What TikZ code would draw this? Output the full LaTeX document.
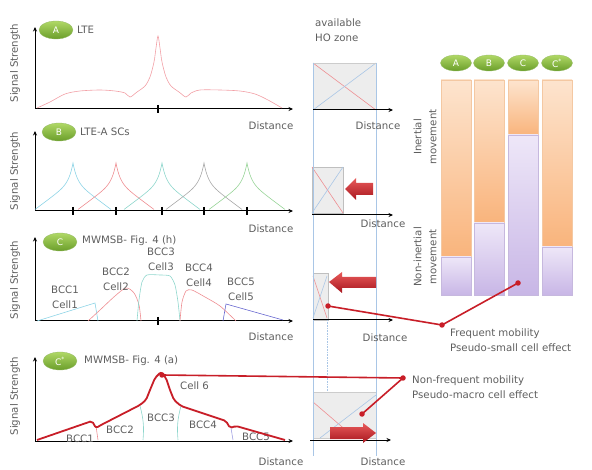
\documentclass[tikz,border=0pt]{standalone}
\usepackage{fontspec}
\setmainfont{DejaVu Sans}
\usetikzlibrary{shapes.geometric,arrows.meta}
\definecolor{tgray}{HTML}{5E5E5E}
\definecolor{lred}{HTML}{C81E28}
\definecolor{pinkc}{HTML}{F2A0A6}
\definecolor{gl}{HTML}{B0D866}
\definecolor{gd}{HTML}{6A9E2A}
\definecolor{hoblue}{HTML}{A9C6E6}
\definecolor{boxgray}{HTML}{EDEDED}
\definecolor{cyanc}{HTML}{8ED4E6}
\definecolor{redc}{HTML}{EE8E92}
\definecolor{tealc}{HTML}{8ED6CC}
\definecolor{grayc}{HTML}{A8A8A8}
\definecolor{greenc}{HTML}{98D498}
\definecolor{bluec}{HTML}{6868D0}
\definecolor{orT}{HTML}{FDE4CE}
\definecolor{orB}{HTML}{F9B47C}
\definecolor{orD}{HTML}{F4C8A2}
\definecolor{lvT}{HTML}{EEE7F8}
\definecolor{lvB}{HTML}{C8B6E6}
\definecolor{lvD}{HTML}{C6B8DE}
\definecolor{arT}{HTML}{E85A5A}
\definecolor{arB}{HTML}{A8161E}
\begin{document}
\begin{tikzpicture}[x=1pt,y=-1pt,
  txt/.style={text=tgray,font=\fontsize{10.2}{15}\selectfont,inner sep=0pt},
  ylab/.style={txt,rotate=90},
  axisline/.style={line width=1pt,-{Stealth[length=4.5pt,width=4pt]}},
  tick/.style={line width=1.1pt},
  badge/.style={ellipse,top color=gl,bottom color=gd,draw=gd!70,line width=0.3pt,
     minimum width=34pt,minimum height=18pt,inner sep=0pt,text=white,
     font=\fontsize{9}{10}\selectfont},
  sbadge/.style={badge,minimum width=31pt,minimum height=16pt},
  pointer/.style={draw=lred,line width=1.6pt},
  reddot/.style={circle,fill=lred,inner sep=0pt,minimum size=5.5pt},
  hobox/.style={fill=boxgray,draw=black!20,line width=0.5pt},
  holine/.style={draw=hoblue,line width=0.7pt},
  thin/.style={line width=0.6pt}]
\useasboundingbox (0,0) rectangle (592,470);

% ---------------- Panel A ----------------
\draw[axisline] (35,109) -- (35,27);
\draw[axisline] (35,109) -- (293,109);
\draw[tick] (158,105) -- (158,113);
\node[ylab] (ylA) at (15,63) {Signal Strength};
\node[badge] (bA) at (56,30) {A};
\node[txt,anchor=west] (tA) at (77,30) {LTE};
\node[txt] (dA) at (271,126) {Distance};
\draw[pinkc,thin] plot[smooth,tension=0.5] coordinates {(37,108) (50,102) (65,94) (80,91) (100,90) (115,91) (125,93) (130,97) (137,92) (145,86) (150,77) (154,62) (156,48) (158,36) (160,48) (162,62) (166,77) (171,86) (179,92) (186,97) (191,93) (200,90) (220,90) (240,91) (255,94) (268,100) (282,108)};

% ---------------- Panel B ----------------
\draw[axisline] (35,211) -- (35,131);
\draw[axisline] (35,211) -- (293,211);
\foreach \t in {73,116,162,204,247} \draw[tick] (\t,207) -- (\t,215);
\node[ylab] (ylB) at (15,171) {Signal Strength};
\node[badge] (bB) at (59,132) {B};
\node[txt,anchor=west] (tB) at (80,132) {LTE-A SCs};
\node[txt] (dB) at (271,229) {Distance};
\foreach \c/\col in {73/cyanc,116/redc,162/tealc,204/grayc,247/greenc}
  \draw[\col,thin] plot[domain=-38:38,samples=77] ({\c+\x},{211-30*(1-abs(\x)/40)-18*exp(-abs(\x)/4)});

% ---------------- Panel C ----------------
\draw[axisline] (35,321) -- (35,237);
\draw[axisline] (35,321) -- (293,321);
\draw[tick] (158,317) -- (158,325);
\node[ylab] (ylC) at (15,280) {Signal Strength};
\node[badge] (bC) at (60,242) {C};
\node[txt,anchor=west] (tC) at (82,241) {MWMSB- Fig. 4 (h)};
\node[txt] (dC) at (271,337) {Distance};
\draw[cyanc,thin] (37,321) -- (95,303) -- (98,321);
\draw[redc,thin] plot[smooth,tension=0.5] coordinates {(88,321) (100,310) (115,296) (126,288) (134,293) (139,305) (141,321)};
\draw[tealc,thin] plot[smooth,tension=0.4] coordinates {(137,321) (139,300) (142,282) (147,275) (160,275) (170,276) (175,285) (178,302) (180,321)};
\draw[redc,thin] plot[smooth,tension=0.4] coordinates {(180,321) (182,302) (186,291) (192,290) (205,297) (220,306) (236,321)};
\draw[bluec,thin] (223,321) -- (226,304) -- (283,320);
\node[txt,align=center] (l1) at (65,297) {BCC1\\Cell1};
\node[txt,align=center] (l2) at (116,279) {BCC2\\Cell2};
\node[txt,align=center] (l3) at (161,259) {BCC3\\Cell3};
\node[txt,align=center] (l4) at (199,275) {BCC4\\Cell4};
\node[txt,align=center] (l5) at (241,289) {BCC5\\Cell5};

% ---------------- Panel C* ----------------
\draw[axisline] (35,441) -- (35,357);
\draw[axisline] (35,441) -- (293,441);
\node[ylab] (ylD) at (15,396) {Signal Strength};
\node[badge] (bD) at (60,361) {C\textsuperscript{*}};
\node[txt,anchor=west] (tD) at (84,361) {MWMSB- Fig. 4 (a)};
\node[txt] (dD) at (281,462) {Distance};
\draw[redc,thin] (96,426) -- (98,440);
\draw[tealc,thin] (140,406) to[bend left=10] (143,440);
\draw[tealc,thin] (181,406) to[bend right=10] (178,440);
\draw[bluec!60,thin] (231,428) -- (233,440);
\node[txt] (m1) at (80,439) {BCC1};
\node[txt] (m2) at (120,430) {BCC2};
\node[txt] (m3) at (161,418) {BCC3};
\node[txt] (m4) at (203,425) {BCC4};
\node[txt] (m5) at (256,437) {BCC5};
\node[txt,anchor=west] (c6) at (180,386) {Cell 6};
\draw[lred,line width=1.8pt,rounded corners=2pt] (37,440) -- (92,421) -- (96,428) -- (101,425) -- (140,405) -- (146,400) -- (150,390) -- (155,378) -- (161,372) -- (166,378) -- (170,390) -- (174,400) -- (181,406) -- (205,414) -- (226,421) -- (230,428) -- (236,426) -- (285,440);

% ---------------- HO zone column ----------------
\node[txt,anchor=west,align=left] (ho) at (315,30) {available\\HO zone};
% box A
\fill[boxgray] (313,63) rectangle (376,110);
\draw[redc,thin] (313,63) -- (376,110);
\draw[hoblue,thin] (313,110) -- (376,63);
\draw[black!20,line width=0.5pt] (313,110) -- (313,63) -- (376,63);
% box B
\fill[boxgray] (312,167) rectangle (343,213);
\draw[black!25,line width=0.5pt] (312,167) rectangle (343,213);
\draw[redc,thin] (312,167) -- (343,213);
\draw[hoblue,thin] (312,213) -- (343,167);
% box C
\fill[boxgray] (313,273) rectangle (328,320);
\draw[black!25,line width=0.5pt] (313,273) rectangle (328,320);
\draw[redc,thin] (313,276) -- (327,318);
\draw[hoblue,thin] (313,318) -- (327,276);
\draw[hoblue,thin,densely dotted] (327,320) -- (327,392);
% box C*
\fill[boxgray] (313,392) rectangle (376,438);
\draw[black!20,line width=0.5pt] (313,392) rectangle (376,438);
\draw[redc,thin] (313,402) -- (355,438);
\draw[hoblue,thin] (320,438) -- (376,395);
% HO zone verticals
\draw[holine] (313,63) -- (313,456);
\draw[holine] (376,63) -- (376,456);
% axes
\draw[axisline] (313,110) -- (393,110);
\draw[axisline] (312,215) -- (393,215);
\draw[axisline] (313,320) -- (393,320);
\draw[axisline] (310,440) -- (391,440);
\node[txt] (hdA) at (378,126) {Distance};
\node[txt] (hdB) at (383,224) {Distance};
\node[txt] (hdC) at (385,338) {Distance};
\node[txt] (hdD) at (383,462) {Distance};
% red block arrows
\shade[top color=arT,bottom color=arB] (345,189) -- (356,178) -- (356,183) -- (373,183) -- (373,195) -- (356,195) -- (356,200) -- cycle;
\shade[top color=arT,bottom color=arB] (329,282) -- (342,272) -- (342,277) -- (376,277) -- (376,288) -- (342,288) -- (342,293) -- cycle;
\shade[top color=arT,bottom color=arB] (376,433) -- (363,423) -- (363,427) -- (330,427) -- (330,439) -- (363,439) -- (363,443) -- cycle;

% ---------------- Bar chart ----------------
\foreach \xa/\sp in {441/257,474/223,508/135,542/247}{
  \shade[top color=orT,bottom color=orB] (\xa,80) rectangle ({\xa+30},\sp);
  \draw[orD,line width=0.6pt] (\xa,80) rectangle ({\xa+30},\sp);
  \shade[top color=lvT,bottom color=lvB] (\xa,\sp) rectangle ({\xa+30},295);
  \draw[lvD,line width=0.6pt] (\xa,\sp) rectangle ({\xa+30},295);
}
\node[sbadge] (rA) at (456,63) {A};
\node[sbadge] (rB) at (489,63) {B};
\node[sbadge] (rC) at (523,63) {C};
\node[sbadge] (rD) at (557,63) {C\textsuperscript{*}};
\node[txt,rotate=90,align=center] (inert) at (425,137) {Inertial\\movement};
\node[txt,rotate=90,align=center] (ninert) at (425,257) {Non-inertial\\movement};

% ---------------- Pointers ----------------
\node[reddot] (pC) at (328,306) {};
\node[reddot] (pF) at (442,325) {};
\node[reddot] (pBar) at (518,283) {};
\draw[pointer] (pC.center) -- (pF.center) -- (pBar.center);
\node[txt,anchor=west,align=left] (tF) at (450,340) {Frequent mobility\\Pseudo-small cell effect};
\node[reddot] (pPeak) at (162,375) {};
\node[reddot] (pN) at (403,378) {};
\node[reddot] (pBox) at (362,414) {};
\draw[pointer] (pPeak.center) -- (pN.center) -- (pBox.center);
\node[txt,anchor=west,align=left] (tN) at (412,387) {Non-frequent mobility\\Pseudo-macro cell effect};
\end{tikzpicture}
\end{document}
